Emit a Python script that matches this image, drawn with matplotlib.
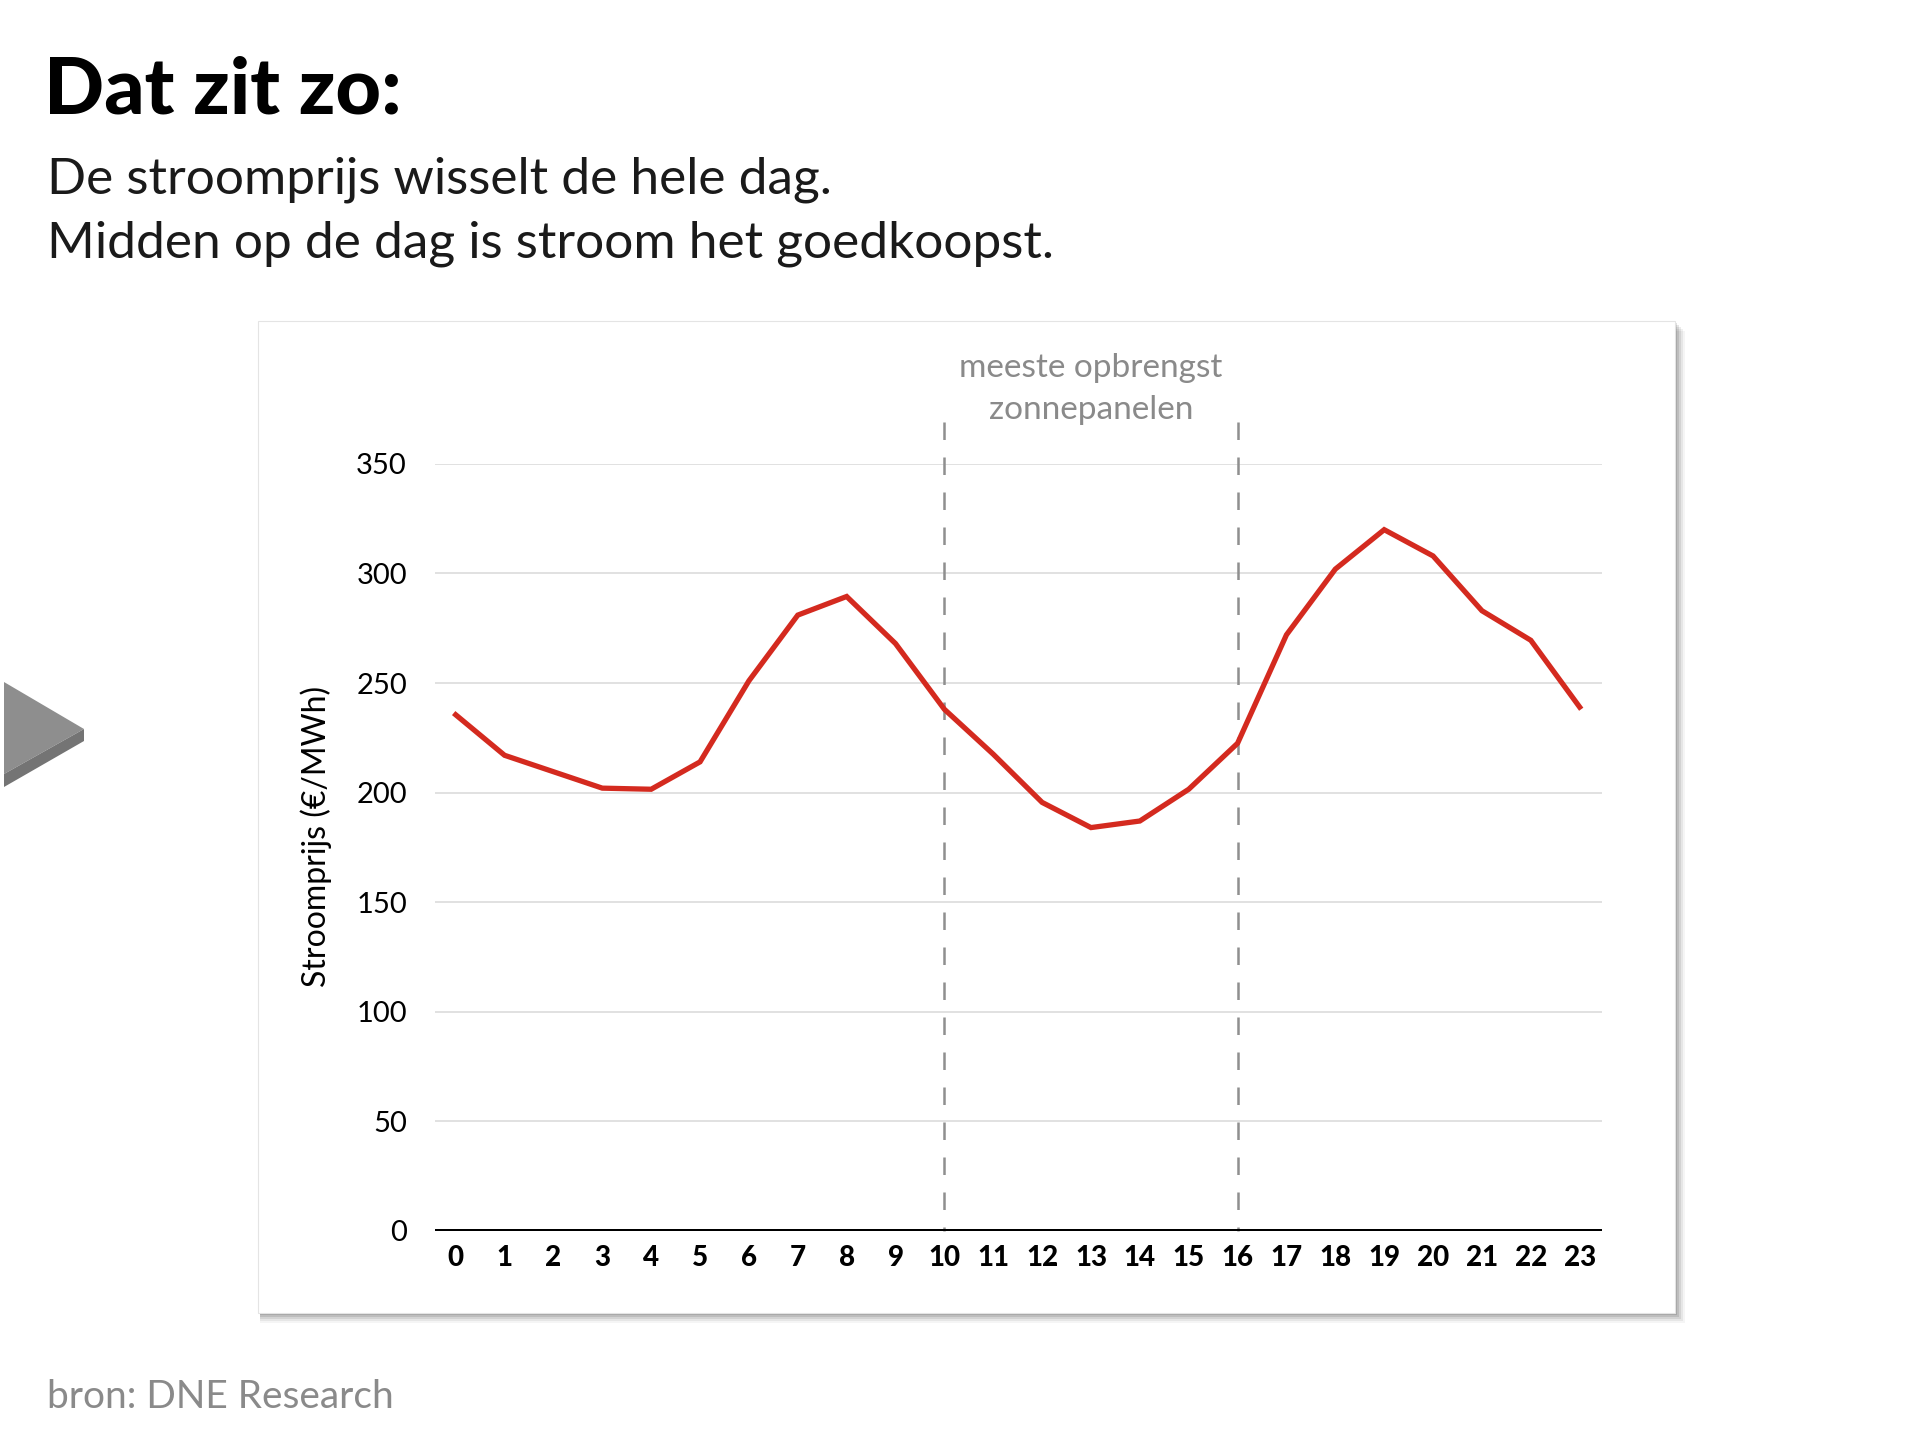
import matplotlib
matplotlib.use("Agg")
import matplotlib.pyplot as plt
from matplotlib.patches import Rectangle, Polygon

# ---- data ----
hours = list(range(24))
hour_labels = [str(h) for h in hours]
prices = [235.5, 217, 209.5, 202, 201.5, 214, 251, 281, 289.5, 268, 238,
          217.5, 195.5, 184, 187, 201.5, 222.5, 272, 302, 320, 308, 283, 269.5, 239]
yticks = [0, 50, 100, 150, 200, 250, 300, 350]
solar_bounds = [10, 16]

title = "Dat zit zo:"
subtitle = ["De stroomprijs wisselt de hele dag.",
            "Midden op de dag is stroom het goedkoopst."]
ylabel = "Stroomprijs (€/MWh)"
annot = "meeste opbrengst\nzonnepanelen"
source = "bron: DNE Research"

RED = "#d42a1f"
GREY_TXT = "#8a8a8a"
FONT = "Lato"

W, H = 1920, 1440
fig = plt.figure(figsize=(W / 100, H / 100), dpi=100)
fig.patch.set_facecolor("white")

def fx(px):
    return px / W

def fy(py):
    return 1 - py / H

# shadow + card
card_l, card_t, card_r, card_b = 258, 321, 1675, 1313
for off, a in [(10, 0.04), (8, 0.06), (6, 0.08), (4, 0.10), (2, 0.12)]:
    fig.patches.append(Rectangle((fx(card_l + 2), fy(card_b + off)),
                                 fx(card_r - card_l + off - 2), (card_b - card_t) / H,
                                 transform=fig.transFigure, facecolor="black",
                                 alpha=a, edgecolor="none", zorder=0))
fig.patches.append(Rectangle((fx(card_l), fy(card_b)), fx(card_r - card_l),
                             (card_b - card_t) / H, transform=fig.transFigure,
                             facecolor="white", edgecolor="#e4e4e4", lw=0.8, zorder=1))

# triangle marker
top_face = [(4, 682), (84, 729), (4, 774)]
bevel = [(4, 774), (84, 729), (84, 741), (4, 787)]
fig.patches.append(Polygon([(fx(x), fy(y)) for x, y in top_face], closed=True,
                           transform=fig.transFigure, facecolor="#8e8e8e",
                           edgecolor="none", zorder=2))
fig.patches.append(Polygon([(fx(x), fy(y)) for x, y in bevel], closed=True,
                           transform=fig.transFigure, facecolor="#747474",
                           edgecolor="none", zorder=2))

# texts
fig.text(fx(44), fy(113), title, fontsize=57, fontweight="black", family=FONT,
         color="black", va="baseline", ha="left")
fig.text(fx(47), fy(180), subtitle[0], fontsize=37, family=FONT, color="#1a1a1a",
         va="center", ha="left")
fig.text(fx(47), fy(244), subtitle[1], fontsize=37, family=FONT, color="#1a1a1a",
         va="center", ha="left")
fig.text(fx(47), fy(1397), source, fontsize=28, family=FONT, color=GREY_TXT,
         va="center", ha="left")

# axes
ax = fig.add_axes([0.2264, 0.1454, 0.6078, 0.5324])
ax.set_facecolor("none")
ax.set_zorder(3)
ax.set_xlim(-0.43, 23.45)
ax.set_ylim(0, 350)
for s in ["top", "right", "left", "bottom"]:
    ax.spines[s].set_visible(False)
ax.set_yticks(yticks)
ax.set_yticklabels([str(v) for v in yticks], family=FONT, fontsize=21)
ax.set_xticks(hours)
ax.set_xticklabels(hour_labels, family=FONT, fontsize=20, fontweight="black")
ax.tick_params(axis="y", length=0, pad=20)
ax.tick_params(axis="x", length=0, pad=10)
ax.grid(axis="y", color="#dcdcdc", lw=1.2)
ax.set_axisbelow(True)
ax.axhline(0, color="black", lw=3.6, zorder=4)

for xb in solar_bounds:
    ax.plot([xb, xb], [369, 0], color="#8f8f8f", lw=1.8, ls=(0, (7, 7)),
            clip_on=False, zorder=2)

ax.plot(hours, prices, color=RED, lw=3.8, zorder=5, solid_joinstyle="miter")

ax.text(13, 384, annot, ha="center", va="center", fontsize=24, family=FONT,
        color=GREY_TXT, linespacing=1.5)

ax.set_ylabel(ylabel, family=FONT, fontsize=23)
ax.yaxis.set_label_coords(-0.088, 0.514)

fig.savefig("out.png", dpi=100)
